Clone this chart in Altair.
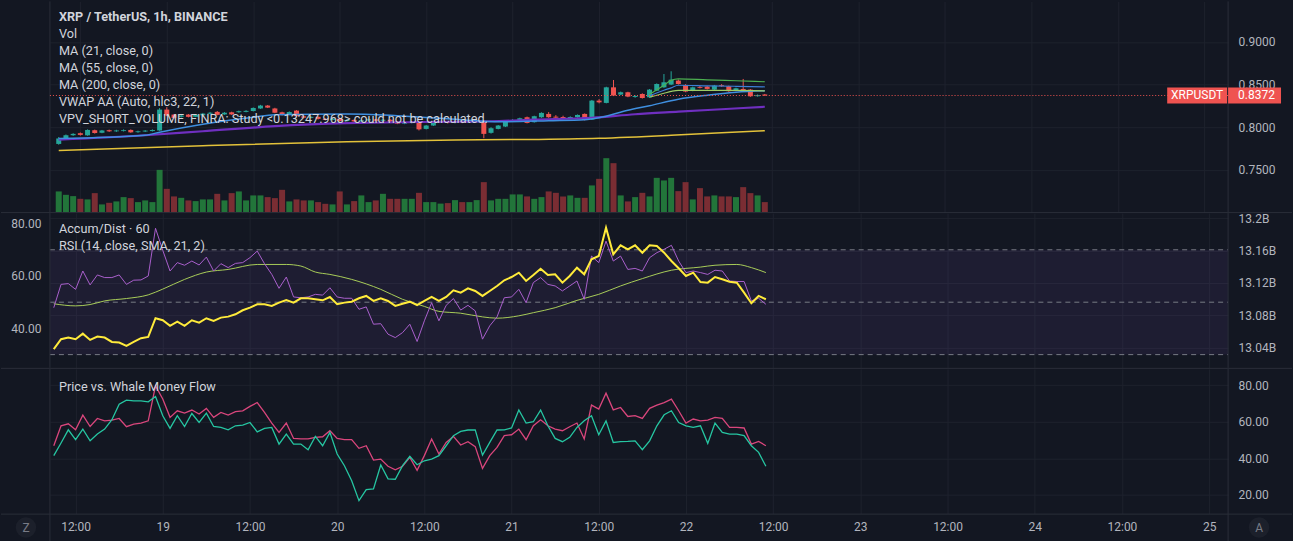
import altair as alt
import pandas as pd

# ---------------- data ----------------
# hourly candles; hour offsets from 19 Nov 00:00
hours = list(range(-15, 84))

opens = [0.7804, 0.7868, 0.7906, 0.7930, 0.7905, 0.7965, 0.7935, 0.7965, 0.7952, 0.7955,
         0.7968, 0.7942, 0.7950, 0.7955, 0.7962, 0.8207, 0.8148, 0.8122, 0.8148, 0.8122,
         0.8140, 0.8158, 0.8180, 0.8150, 0.8175, 0.8176, 0.8180, 0.8190, 0.8220, 0.8254,
         0.8220, 0.8175, 0.8148, 0.8195, 0.8128, 0.8110, 0.8122, 0.8098, 0.8086, 0.8100,
         0.8072, 0.8086, 0.8068, 0.8080, 0.8092, 0.8076, 0.8088, 0.8066, 0.8042, 0.8050,
         0.8052, 0.7980, 0.8020, 0.8055, 0.8067, 0.8050, 0.8066, 0.8054, 0.8058, 0.8062,
         0.7934, 0.7980, 0.8008, 0.8068, 0.8067, 0.8117, 0.8059, 0.8117, 0.8156, 0.8124,
         0.8120, 0.8108, 0.8117, 0.8156, 0.8090, 0.8312, 0.8285, 0.8468, 0.8383, 0.8410,
         0.8355, 0.8390, 0.8351, 0.8429, 0.8468, 0.8500, 0.8547, 0.8496, 0.8429, 0.8472,
         0.8476, 0.8441, 0.8492, 0.8480, 0.8429, 0.8449, 0.8441, 0.8364, 0.8384]
closes = [0.7868, 0.7906, 0.7922, 0.7910, 0.7968, 0.7932, 0.7962, 0.7952, 0.7962, 0.7965,
          0.7940, 0.7952, 0.7960, 0.7967, 0.8207, 0.8137, 0.8110, 0.8137, 0.8122, 0.8148,
          0.8160, 0.8170, 0.8145, 0.8170, 0.8150, 0.8188, 0.8192, 0.8226, 0.8254, 0.8230,
          0.8170, 0.8145, 0.8178, 0.8130, 0.8112, 0.8122, 0.8098, 0.8086, 0.8100, 0.8072,
          0.8086, 0.8068, 0.8082, 0.8092, 0.8076, 0.8088, 0.8066, 0.8042, 0.8056, 0.8062,
          0.7975, 0.8020, 0.8055, 0.8067, 0.8050, 0.8066, 0.8054, 0.8068, 0.8068, 0.7922,
          0.7988, 0.8020, 0.8067, 0.8080, 0.8105, 0.8050, 0.8129, 0.8168, 0.8117, 0.8112,
          0.8108, 0.8120, 0.8144, 0.8086, 0.8312, 0.8292, 0.8468, 0.8371, 0.8410, 0.8359,
          0.8367, 0.8343, 0.8441, 0.8507, 0.8527, 0.8558, 0.8507, 0.8418, 0.8468, 0.8462,
          0.8449, 0.8488, 0.8482, 0.8422, 0.8457, 0.8422, 0.8363, 0.8376, 0.8372]
highs = [0.7885, 0.7915, 0.7930, 0.7938, 0.7975, 0.7972, 0.7968, 0.7972, 0.7970, 0.7975,
         0.7975, 0.7960, 0.7966, 0.7975, 0.8225, 0.8235, 0.8155, 0.8145, 0.8155, 0.8155,
         0.8168, 0.8180, 0.8190, 0.8178, 0.8182, 0.8195, 0.8200, 0.8232, 0.8262, 0.8260,
         0.8228, 0.8182, 0.8186, 0.8200, 0.8135, 0.8128, 0.8128, 0.8105, 0.8108, 0.8106,
         0.8092, 0.8092, 0.8090, 0.8100, 0.8098, 0.8095, 0.8094, 0.8072, 0.8062, 0.8070,
         0.8060, 0.8026, 0.8062, 0.8075, 0.8074, 0.8072, 0.8072, 0.8075, 0.8075, 0.8078,
         0.8000, 0.8026, 0.8072, 0.8095, 0.8112, 0.8125, 0.8135, 0.8175, 0.8178, 0.8142,
         0.8135, 0.8128, 0.8150, 0.8162, 0.8320, 0.8330, 0.8475, 0.8554, 0.8418, 0.8416,
         0.8375, 0.8398, 0.8448, 0.8514, 0.8624, 0.8656, 0.8560, 0.8505, 0.8476, 0.8485,
         0.8484, 0.8496, 0.8505, 0.8487, 0.8464, 0.8566, 0.8448, 0.8384, 0.8390]
lows = [0.7795, 0.7860, 0.7898, 0.7902, 0.7900, 0.7925, 0.7930, 0.7945, 0.7945, 0.7950,
        0.7935, 0.7935, 0.7944, 0.7950, 0.7958, 0.8130, 0.8100, 0.8115, 0.8115, 0.8118,
        0.8135, 0.8152, 0.8140, 0.8145, 0.8145, 0.8170, 0.8175, 0.8185, 0.8215, 0.8225,
        0.8165, 0.8138, 0.8142, 0.8120, 0.8105, 0.8104, 0.8090, 0.8080, 0.8080, 0.8066,
        0.8066, 0.8062, 0.8062, 0.8075, 0.8070, 0.8070, 0.8060, 0.8036, 0.8036, 0.8045,
        0.7962, 0.7974, 0.8015, 0.8050, 0.8044, 0.8045, 0.8048, 0.8050, 0.8052, 0.7871,
        0.7925, 0.7975, 0.8002, 0.8062, 0.8062, 0.8045, 0.8054, 0.8110, 0.8110, 0.8095,
        0.8100, 0.8100, 0.8112, 0.8080, 0.8085, 0.8280, 0.8280, 0.8365, 0.8376, 0.8352,
        0.8345, 0.8336, 0.8345, 0.8424, 0.8462, 0.8494, 0.8500, 0.8410, 0.8422, 0.8455,
        0.8442, 0.8435, 0.8474, 0.8415, 0.8422, 0.8415, 0.8356, 0.8358, 0.8366]
volumes = [2.07, 1.73, 1.60, 1.33, 1.27, 1.90, 0.77, 0.93, 1.07, 1.50,
           1.40, 1.00, 1.17, 1.00, 4.23, 2.33, 1.57, 1.43, 1.17, 1.10,
           1.27, 1.27, 1.83, 1.17, 1.90, 2.07, 1.17, 1.67, 1.67, 1.50,
           1.40, 2.23, 1.07, 1.27, 1.17, 1.17, 1.00, 0.83, 0.77, 2.07,
           0.77, 1.10, 1.67, 1.00, 1.17, 1.83, 1.33, 1.33, 1.33, 1.33,
           1.93, 1.00, 1.00, 0.85, 0.90, 1.20, 1.00, 1.00, 1.20, 3.00,
           1.17, 1.33, 1.33, 1.77, 1.77, 1.57, 1.33, 1.50, 2.07, 1.93,
           1.57, 1.67, 1.43, 1.43, 2.67, 3.33, 5.40, 4.90, 1.67, 1.07,
           1.50, 1.93, 1.57, 3.43, 3.17, 3.43, 2.10, 3.00, 1.27, 2.40,
           1.57, 1.67, 1.57, 1.57, 1.50, 2.50, 1.90, 1.67, 1.00]

ma21_h = [-15, -3, -1, 5, 12, 15, 25, 32, 38, 43, 47, 53, 58, 60, 64, 67, 71, 75, 79, 83]
ma21_v = [0.7868, 0.7906, 0.7942, 0.8035, 0.8117, 0.8146, 0.8156, 0.8135, 0.8105, 0.8076,
          0.8064, 0.8076, 0.8088, 0.8111, 0.8199, 0.8252, 0.8328, 0.8375, 0.8410, 0.8427]
ma55_h = [-15, -3, 5, 15, 25, 35, 45, 51, 59, 65, 71, 77, 83]
ma55_v = [0.7854, 0.7906, 0.7953, 0.8012, 0.8047, 0.8061, 0.8070, 0.8088, 0.8111, 0.8152,
          0.8182, 0.8211, 0.8240]
ma200_h = [-15, 5, 25, 40, 50, 60, 70, 77, 83]
ma200_v = [0.7727, 0.7783, 0.7830, 0.7851, 0.7856, 0.7871, 0.7906, 0.7936, 0.7959]
vwap_h = [67, 69, 70, 71, 75, 79, 83]
vwap_up = [0.8386, 0.8492, 0.8550, 0.8568, 0.8556, 0.8545, 0.8533]
vwap_mid = [0.8369, 0.8433, 0.8462, 0.8492, 0.8486, 0.8480, 0.8474]
vwap_lo = [0.8351, 0.8398, 0.8420, 0.8433, 0.8433, 0.8431, 0.8427]
last_price = 0.8372

rsi = [47.9, 56.8, 57.1, 54.9, 61.9, 56.6, 60.4, 59.4, 59.4, 60.4,
       56.8, 58.4, 58.5, 60.0, 78.2, 69.8, 61.9, 65.1, 64.1, 65.7,
       64.2, 67.2, 61.9, 64.7, 63.2, 64.8, 65.1, 67.0, 69.5, 64.7,
       60.6, 55.3, 59.6, 52.0, 51.7, 52.0, 53.0, 52.7, 55.5, 52.0,
       51.5, 51.5, 47.3, 48.2, 41.6, 41.8, 37.8, 36.5, 38.4, 41.6,
       35.0, 42.9, 49.8, 42.9, 48.8, 51.4, 47.0, 48.8, 46.7, 35.9,
       41.0, 44.4, 51.7, 52.0, 54.9, 49.8, 57.5, 59.4, 56.8, 56.2,
       54.3, 56.2, 58.1, 51.1, 67.6, 65.1, 73.3, 65.7, 67.6, 62.5,
       62.9, 61.9, 67.0, 68.9, 70.2, 71.7, 65.7, 61.3, 61.9, 61.3,
       60.6, 62.2, 61.9, 58.1, 57.9, 57.9, 50.5, 51.5, 49.2]
sma_h = [-15, -12, -10, -8, -5, -2, 0, 3, 6, 9, 13, 17, 19, 21, 23, 26, 30, 33, 36, 38,
         41, 44, 46, 49, 51, 54, 57, 60, 63, 66, 70, 74, 76, 79, 81, 83]
sma_v = [49.4, 48.6, 49.1, 50.5, 51.4, 52.8, 55.0, 58.7, 61.5, 62.5, 64.4, 64.4, 63.8, 61.5,
         60.6, 58.7, 54.9, 51.1, 48.4, 46.5, 45.8, 44.4, 43.9, 44.8, 46.0, 47.9, 50.7, 53.0,
         56.2, 59.0, 62.2, 63.4, 64.1, 64.4, 63.2, 61.3]
accum_dist = [13.0378, 13.0502, 13.0522, 13.0502, 13.0571, 13.0493, 13.0534, 13.0522, 13.0468, 13.0460,
              13.0419, 13.0468, 13.0514, 13.0530, 13.0762, 13.0737, 13.0667, 13.0720, 13.0667, 13.0737,
              13.0708, 13.0762, 13.0729, 13.0770, 13.0782, 13.0811, 13.0861, 13.0894, 13.0936, 13.0936,
              13.0915, 13.0956, 13.0989, 13.0956, 13.1010, 13.1010, 13.0998, 13.0985, 13.1026, 13.0936,
              13.0956, 13.0968, 13.1010, 13.1039, 13.0977, 13.1010, 13.0977, 13.0915, 13.0943, 13.0968,
              13.0925, 13.0977, 13.1026, 13.0977, 13.1026, 13.1109, 13.1080, 13.1134, 13.1101, 13.1039,
              13.1101, 13.1163, 13.1233, 13.1274, 13.1328, 13.1225, 13.1299, 13.1377, 13.1299, 13.1308,
              13.1204, 13.1287, 13.1390, 13.1308, 13.1494, 13.1535, 13.1886, 13.1556, 13.1668, 13.1618,
              13.1668, 13.1576, 13.1668, 13.1659, 13.1576, 13.1473, 13.1382, 13.1287, 13.1328, 13.1212,
              13.1204, 13.1274, 13.1246, 13.1216, 13.1204, 13.1080, 13.0948, 13.1039, 13.0998]

whale_price = [46.9, 57.8, 58.9, 55.6, 63.6, 57.4, 61.8, 60.5, 60.9, 61.8,
               57.3, 58.7, 59.3, 60.5, 79.6, 72.4, 62.4, 66.0, 64.7, 66.4,
               64.2, 67.3, 62.4, 65.1, 63.6, 65.5, 66.0, 68.4, 70.5, 65.1,
               59.3, 54.2, 59.3, 50.9, 50.6, 50.6, 51.5, 51.8, 55.1, 50.9,
               50.2, 50.2, 45.5, 46.9, 39.1, 39.6, 35.7, 33.8, 35.7, 40.5,
               33.5, 41.5, 50.6, 42.4, 48.7, 52.0, 47.3, 49.1, 46.4, 34.5,
               41.5, 46.0, 52.4, 52.9, 56.0, 50.2, 57.8, 61.1, 57.8, 56.0,
               55.1, 57.3, 59.3, 50.6, 69.1, 66.9, 75.6, 66.5, 67.8, 62.9,
               63.3, 61.8, 67.3, 69.1, 70.5, 72.4, 66.0, 59.3, 61.5, 60.5,
               60.9, 62.4, 61.8, 56.9, 56.9, 56.6, 47.8, 49.3, 46.9]
whale_flow = [41.5, 48.4, 55.6, 50.2, 56.0, 49.6, 53.3, 56.0, 61.1, 69.6,
              71.8, 71.4, 71.4, 70.9, 73.8, 63.3, 56.4, 63.3, 57.4, 64.5,
              59.6, 64.7, 57.4, 56.9, 55.6, 57.8, 58.2, 59.6, 54.5, 56.4,
              56.9, 47.8, 53.3, 47.8, 47.8, 44.7, 52.0, 46.9, 54.2, 42.4,
              36.0, 27.8, 16.9, 22.9, 23.3, 36.4, 28.8, 28.6, 36.0, 41.1,
              36.5, 38.7, 39.6, 41.5, 46.9, 52.4, 54.7, 55.5, 55.6, 41.8,
              48.7, 55.5, 55.6, 56.6, 66.4, 59.3, 60.0, 66.4, 57.8, 50.9,
              49.1, 51.5, 56.9, 60.5, 63.3, 52.9, 60.5, 48.7, 49.1, 49.3,
              49.6, 44.7, 49.6, 57.8, 63.8, 66.0, 59.6, 57.8, 56.9, 57.8,
              48.2, 59.3, 54.2, 53.3, 53.3, 52.4, 46.9, 43.3, 35.7]

legend_main = ["XRP / TetherUS, 1h, BINANCE", "Vol", "MA (21, close, 0)", "MA (55, close, 0)",
               "MA (200, close, 0)", "VWAP AA (Auto, hlc3, 22, 1)",
               "VPV_SHORT_VOLUME, FINRA: Study <0.13247.968> could not be calculated."]
legend_osc = ["Accum/Dist · 60", "RSI (14, close, SMA, 21, 2)"]
legend_whale = ["Price vs. Whale Money Flow"]
price_ticks = [0.75, 0.80, 0.85, 0.90]
rsi_ticks = [40, 60, 80]
rsi_levels = [70, 50, 30]
ad_ticks = [13.04, 13.08, 13.12, 13.16, 13.2]
whale_ticks = [20, 40, 60, 80]
x_ticks = list(range(-12, 145, 12))

for arr in (opens, closes, highs, lows, volumes, rsi, accum_dist, whale_price, whale_flow):
    assert len(arr) == len(hours), len(arr)

# ---------------- styling ----------------
W = 1180
H1, H2, H3 = 211, 155, 145
LEFT, RIGHT = 49, 64
BG = "#131722"
GRID = "#1e222d"
SEP = "#2a2e39"
TXT = "#d1d4dc"
AXC = "#b2b5be"
FONT = "Roboto"
LEG_SIZE = 12.7
UP, DN = "#26a69a", "#ef5350"
VUP, VDN = "#22753a", "#7a2d33"

candles = pd.DataFrame({"h": hours, "o": opens, "c": closes, "hi": highs, "lo": lows, "v": volumes})
osc = pd.DataFrame({"h": hours, "rsi": rsi, "ad": accum_dist, "wp": whale_price, "wf": whale_flow})

xscale = alt.Scale(domain=[-15.53, 146.61], nice=False, zero=False)
x_hidden = alt.Axis(values=x_ticks, grid=True, gridColor=GRID, labels=False, ticks=False,
                    domain=False, title=None)
x_shown = alt.Axis(values=x_ticks, grid=True, gridColor=GRID, ticks=False, domain=False, title=None,
                   labelExpr="datum.value % 24 == 0 ? '' + (19 + datum.value / 24) : '12:00'",
                   labelPadding=8, labelOverlap=False, labelFlush=False,
                   labelColor=AXC, labelFontSize=12, labelFont=FONT)


def X(axis):
    return alt.X("h:Q", scale=xscale, axis=axis)


def one():
    return pd.DataFrame({"k": [0]})


def frame(h, extra_bottom=0):
    return [
        alt.Chart(one()).mark_rule(color=SEP, strokeWidth=1).encode(
            x=alt.value(0), y=alt.value(0), y2=alt.value(h + extra_bottom)),
        alt.Chart(one()).mark_rule(color=SEP, strokeWidth=1).encode(
            x=alt.value(W), y=alt.value(0), y2=alt.value(h + extra_bottom)),
        alt.Chart(one()).mark_rule(color=SEP, strokeWidth=1).encode(
            x=alt.value(-LEFT), x2=alt.value(W + RIGHT), y=alt.value(h + 0.5)),
    ]


def legend(lines, y0, bold_first=False):
    out = []
    for k, line in enumerate(lines):
        out.append(alt.Chart(pd.DataFrame({"t": [line]})).mark_text(
            align="left", baseline="middle", font=FONT, fontSize=LEG_SIZE, color=TXT,
            fontWeight="bold" if (bold_first and k == 0) else "normal").encode(
            x=alt.value(9), y=alt.value(y0 + 17 * k), text="t:N"))
    return out


# ---------------- pane 1 : price ----------------
price_scale = alt.Scale(domain=[0.70047, 0.94754], nice=False, zero=False)
price_axis = alt.Axis(orient="right", values=price_ticks, format=".4f", grid=True, gridColor=GRID,
                      ticks=False, tickSize=0, domain=False, title=None, labelPadding=10,
                      labelColor=AXC, labelFontSize=12, labelFont=FONT)


def PY(f):
    return alt.Y(f, type="quantitative", scale=price_scale, axis=price_axis)


vol = alt.Chart(candles).mark_bar(size=6).encode(
    x=X(x_hidden),
    y=alt.Y("v:Q", scale=alt.Scale(domain=[0, 21.1], nice=False), axis=None),
    color=alt.condition("datum.c >= datum.o", alt.value(VUP), alt.value(VDN)))

wicks = alt.Chart(candles).mark_rule(strokeWidth=1).encode(
    x=X(x_hidden), y=PY("lo"), y2="hi:Q",
    color=alt.condition("datum.c >= datum.o", alt.value(UP), alt.value(DN)))
bodies = alt.Chart(candles).mark_bar(size=5).encode(
    x=X(x_hidden), y=PY("o"), y2="c:Q",
    color=alt.condition("datum.c >= datum.o", alt.value(UP), alt.value(DN)))


def pline(hs, vs, color, width):
    return alt.Chart(pd.DataFrame({"h": hs, "p": vs})).mark_line(
        color=color, strokeWidth=width, interpolate="monotone").encode(x=X(x_hidden), y=PY("p"))


ma200 = pline(ma200_h, ma200_v, "#e3c23a", 1.5)
ma55 = pline(ma55_h, ma55_v, "#6f2fc0", 2.2)
ma21 = pline(ma21_h, ma21_v, "#3f8fe0", 1.5)
vw_lo = pline(vwap_h, vwap_lo, "#9ccc65", 1.2)
vw_mid = pline(vwap_h, vwap_mid, "#3d7fd6", 1.2)
vw_up = pline(vwap_h, vwap_up, "#4caf50", 1.2)

lp = pd.DataFrame({"p": [last_price], "sym": ["XRPUSDT"]})
price_line = alt.Chart(lp).mark_rule(color=DN, strokeDash=[1, 2], strokeWidth=1).encode(
    y=PY("p"), x=alt.value(0), x2=alt.value(W))
tag1 = alt.Chart(lp).mark_rule(color=DN, strokeWidth=16).encode(
    y=PY("p"), x=alt.value(1119), x2=alt.value(1179))
tag2 = alt.Chart(lp).mark_rule(color=DN, strokeWidth=16).encode(
    y=PY("p"), x=alt.value(1180), x2=alt.value(1233))
tag1_t = alt.Chart(lp).mark_text(color="white", font=FONT, fontSize=12, align="center",
                                 baseline="middle").encode(
    y=PY("p"), x=alt.value(1149), text="sym:N")
tag2_t = alt.Chart(lp).mark_text(color="white", font=FONT, fontSize=12, align="left",
                                 baseline="middle").encode(
    y=PY("p"), x=alt.value(1190), text=alt.Text("p:Q", format=".4f"))

price_group = alt.layer(*frame(H1), wicks, bodies, ma200, ma55, ma21, vw_lo, vw_mid, vw_up,
                        price_line, tag1, tag2, tag1_t, tag2_t,
                        *legend(legend_main, 16, bold_first=True))
pane1 = alt.layer(vol, price_group).resolve_scale(y="independent").properties(width=W, height=H1)

# ---------------- pane 2 : RSI + Accum/Dist ----------------
rsi_scale = alt.Scale(domain=[24.95, 84.0], nice=False, zero=False)
rsi_axis = alt.Axis(orient="left", values=rsi_ticks, format=".2f", grid=False, ticks=False, tickSize=0,
                    domain=False, title=None, labelPadding=9, labelColor=AXC, labelFontSize=12,
                    labelFont=FONT)


def RY(f):
    return alt.Y(f, type="quantitative", scale=rsi_scale, axis=rsi_axis)


band = alt.Chart(pd.DataFrame({"a": [rsi_levels[0]], "b": [rsi_levels[2]]})).mark_rect(
    color="#7e57c2", opacity=0.1).encode(y=RY("a"), y2="b:Q", x=alt.value(0), x2=alt.value(W))
levels = alt.Chart(pd.DataFrame({"lv": rsi_levels})).mark_rule(
    color="#787b86", strokeDash=[5, 4], strokeWidth=1).encode(
    y=RY("lv"), x=alt.value(0), x2=alt.value(W))
sma_line = alt.Chart(pd.DataFrame({"h": sma_h, "s": sma_v})).mark_line(
    color="#a8cc58", strokeWidth=1, interpolate="monotone").encode(x=X(x_hidden), y=RY("s"))
rsi_line = alt.Chart(osc).mark_line(color="#a95fcc", strokeWidth=1).encode(x=X(x_hidden), y=RY("rsi"))

ad_line = alt.Chart(osc).mark_line(color="#ffeb3b", strokeWidth=2).encode(
    x=X(x_hidden),
    y=alt.Y("ad:Q", scale=alt.Scale(domain=[13.0146, 13.2068], nice=False, zero=False),
            axis=alt.Axis(orient="right", values=ad_ticks, grid=True, gridColor=GRID,
                          labelExpr="format(datum.value, '.4~g') + 'B'", ticks=False, tickSize=0,
                          domain=False, title=None, labelPadding=10, labelColor=AXC,
                          labelFontSize=12, labelFont=FONT)))

rsi_group = alt.layer(band, levels, *frame(H2), sma_line, rsi_line, *legend(legend_osc, 16))
pane2 = alt.layer(rsi_group, ad_line).resolve_scale(y="independent").properties(width=W, height=H2)

# ---------------- pane 3 : Price vs Whale Money Flow ----------------
wscale = alt.Scale(domain=[9.82, 88.9], nice=False, zero=False)
waxis = alt.Axis(orient="right", values=whale_ticks, format=".2f", grid=True, gridColor=GRID,
                 ticks=False, tickSize=0, domain=False, title=None, labelPadding=10,
                 labelColor=AXC, labelFontSize=12, labelFont=FONT)
wp_line = alt.Chart(osc).mark_line(color="#d9467c", strokeWidth=1.3).encode(
    x=X(x_shown), y=alt.Y("wp:Q", scale=wscale, axis=waxis))
wf_line = alt.Chart(osc).mark_line(color="#26c6a2", strokeWidth=1.3).encode(
    x=X(x_shown), y=alt.Y("wf:Q", scale=wscale, axis=waxis))

buttons = []
for letter, bx in (("Z", -24), ("A", 1211)):
    d = pd.DataFrame({"t": [letter]})
    buttons.append(alt.Chart(d).mark_circle(size=420, color="#1c202b", opacity=1).encode(
        x=alt.value(bx), y=alt.value(159)))
    buttons.append(alt.Chart(d).mark_text(color="#787b86", font=FONT, fontSize=12,
                                          baseline="middle", align="center").encode(
        x=alt.value(bx), y=alt.value(159), text="t:N"))

pane3 = alt.layer(*frame(H3, extra_bottom=28), wp_line, wf_line, *legend(legend_whale, 18),
                  *buttons).properties(width=W, height=H3)

chart = alt.vconcat(pane1, pane2, pane3, spacing=1, bounds="flush").properties(
    padding=0, background=BG
).configure_view(strokeWidth=0)

chart.save("out.html", embed_options={"renderer": "svg", "actions": False})
